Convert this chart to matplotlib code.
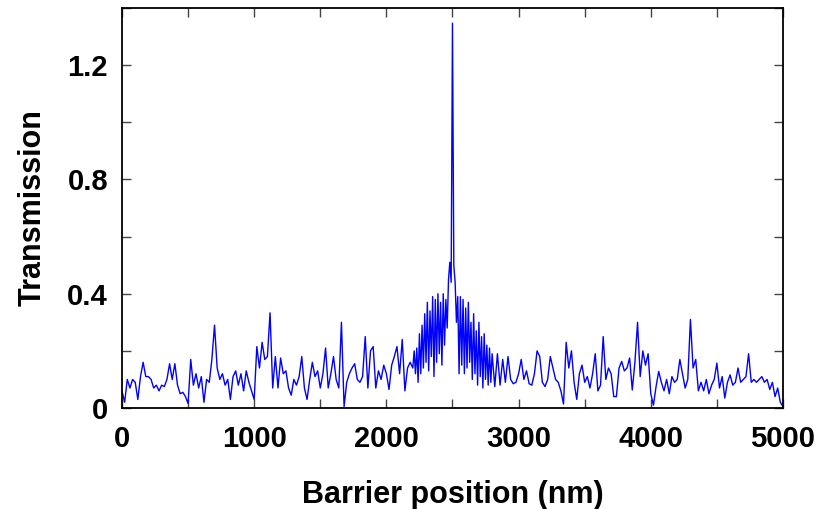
import numpy as np
import matplotlib
matplotlib.use('Agg')
import matplotlib.pyplot as plt
from matplotlib.ticker import MultipleLocator, FuncFormatter

# barrier position (nm): 20 nm steps on the flanks, 10 nm around the resonance
pos_left = np.arange(0, 2200, 20)
pos_mid = np.arange(2200, 2810, 10)
pos_right = np.arange(2820, 5001, 20)

trans_left = [
    0.06, 0.02, 0.10, 0.07, 0.10, 0.09, 0.03, 0.11, 0.16, 0.11,    # 0-180
    0.11, 0.10, 0.07, 0.08, 0.06, 0.08, 0.075, 0.10, 0.155, 0.10,  # 200-380
    0.155, 0.08, 0.05, 0.055, 0.04, 0.016, 0.17, 0.08, 0.12, 0.07, # 400-580
    0.11, 0.02, 0.10, 0.09, 0.17, 0.29, 0.14, 0.10, 0.12, 0.08,    # 600-780
    0.10, 0.03, 0.11, 0.13, 0.08, 0.12, 0.06, 0.13, 0.09, 0.06,    # 800-980
    0.03, 0.215, 0.14, 0.23, 0.17, 0.18, 0.333, 0.07, 0.18, 0.07,  # 1000-1180
    0.175, 0.12, 0.13, 0.07, 0.045, 0.10, 0.08, 0.11, 0.18, 0.07,  # 1200-1380
    0.03, 0.10, 0.16, 0.11, 0.13, 0.07, 0.12, 0.21, 0.07, 0.12,    # 1400-1580
    0.18, 0.10, 0.07, 0.30, 0.005, 0.09, 0.12, 0.14, 0.155, 0.10,  # 1600-1780
    0.09, 0.11, 0.25, 0.07, 0.20, 0.215, 0.07, 0.13, 0.10, 0.15,   # 1800-1980
    0.12, 0.065, 0.15, 0.18, 0.215, 0.12, 0.24, 0.06, 0.14, 0.16,  # 2000-2180
]

trans_mid = [
    0.14, 0.20, 0.12, 0.21, 0.09, 0.26, 0.12, 0.29, 0.14, 0.33,    # 2200-2290
    0.16, 0.37, 0.13, 0.34, 0.18, 0.39, 0.11, 0.38, 0.16, 0.40,    # 2300-2390
    0.19, 0.37, 0.15, 0.40, 0.22, 0.38, 0.28, 0.45, 0.51, 0.44,    # 2400-2490
    1.347, 0.50, 0.44, 0.30, 0.39, 0.12, 0.39, 0.15, 0.38, 0.12,   # 2500-2590
    0.35, 0.14, 0.37, 0.16, 0.30, 0.10, 0.33, 0.12, 0.27, 0.08,    # 2600-2690
    0.30, 0.11, 0.25, 0.07, 0.26, 0.10, 0.22, 0.08, 0.21, 0.09,    # 2700-2790
    0.19,                                                          # 2800
]

trans_right = [
    0.075, 0.19, 0.08, 0.17, 0.09, 0.18, 0.10, 0.085, 0.09,        # 2820-2980
    0.12, 0.17, 0.10, 0.13, 0.085, 0.08, 0.12, 0.20, 0.18, 0.09,   # 3000-3180
    0.075, 0.10, 0.18, 0.14, 0.10, 0.09, 0.06, 0.014, 0.23, 0.14,  # 3200-3380
    0.20, 0.09, 0.03, 0.12, 0.15, 0.09, 0.11, 0.07, 0.12, 0.19,    # 3400-3580
    0.06, 0.08, 0.25, 0.10, 0.14, 0.12, 0.04, 0.04, 0.14, 0.163,   # 3600-3780
    0.13, 0.14, 0.175, 0.063, 0.16, 0.30, 0.11, 0.20, 0.15, 0.19,  # 3800-3980
    0.05, 0.01, 0.075, 0.128, 0.09, 0.06, 0.10, 0.05, 0.11, 0.09,  # 4000-4180
    0.10, 0.17, 0.12, 0.07, 0.10, 0.31, 0.14, 0.17, 0.06, 0.09,    # 4200-4380
    0.06, 0.10, 0.05, 0.08, 0.10, 0.157, 0.07, 0.11, 0.035, 0.09,  # 4400-4580
    0.116, 0.08, 0.09, 0.14, 0.09, 0.10, 0.11, 0.19, 0.09, 0.10,   # 4600-4780
    0.09, 0.10, 0.11, 0.09, 0.10, 0.065, 0.09, 0.04, 0.07, 0.02,   # 4800-4980
    0.005,                                                         # 5000
]

position_nm = np.concatenate([pos_left, pos_mid, pos_right])
transmission = trans_left + trans_mid + trans_right

plt.rcParams['font.family'] = ['Liberation Sans', 'DejaVu Sans']
plt.rcParams['font.weight'] = 'bold'

fig = plt.figure(figsize=(8.31, 5.09), dpi=100)
ax = fig.add_axes([0.1468, 0.1984, 0.7954, 0.7859])

ax.plot(position_nm, transmission, color="#0000ff", linewidth=1.0)

ax.set_xlim(0, 5000)
ax.set_ylim(0, 1.4)

ax.xaxis.set_major_locator(MultipleLocator(1000))
ax.xaxis.set_minor_locator(MultipleLocator(500))
ax.yaxis.set_major_locator(MultipleLocator(0.4))
ax.yaxis.set_minor_locator(MultipleLocator(0.2))
ax.yaxis.set_major_formatter(FuncFormatter(lambda v, p: "0" if abs(v) < 1e-9 else "%.1f" % v))

ax.tick_params(which="both", direction="in", top=True, right=True,
               length=6.5, width=1.0, color="#444444")
ax.tick_params(axis="x", which="major", labelsize=21, pad=12)
ax.tick_params(axis="y", which="major", labelsize=21, pad=10)

for s in ax.spines.values():
    s.set_linewidth(1.3)

ax.set_xlabel("Barrier position (nm)", fontsize=22, fontweight="bold", labelpad=20)
ax.set_ylabel("Transmission", fontsize=22, fontweight="bold", labelpad=14)

plt.savefig("out.png", dpi=100)
